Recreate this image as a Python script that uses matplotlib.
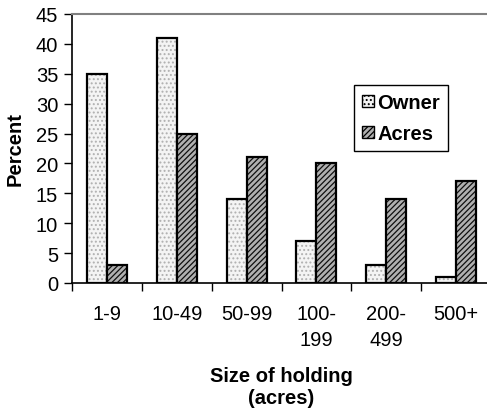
import matplotlib
matplotlib.use("Agg")
import matplotlib.pyplot as plt
import matplotlib.patches as mpatches
import numpy as np

plt.rcParams['font.family'] = ['Liberation Sans', 'DejaVu Sans']
plt.rcParams['hatch.linewidth'] = 0.9

# --- dados ---
categorias = ["1-9", "10-49", "50-99", "100-\n199", "200-\n499", "500+"]
owner = [35, 41, 14, 7, 3, 1]
acres = [3, 25, 21, 20, 14, 17]

FS = 14.5

fig = plt.figure(figsize=(4.87, 4.10), dpi=100)
ax = fig.add_axes([72/487, 1 - 284/410, 419/487, 269/410])

x = np.arange(len(categorias))
w = 0.286

# Owner: pontinhos cinza + contorno preto
ax.bar(x - w/2, owner, w, facecolor='#f4f4f4', edgecolor='#b0b0b0', hatch='....', linewidth=0)
ax.bar(x - w/2, owner, w, facecolor='none', edgecolor='black', linewidth=1.6)
# Acres: diagonal densa
ax.bar(x + w/2, acres, w, facecolor='#b0b0b0', edgecolor='#101010', hatch='//////', linewidth=0)
ax.bar(x + w/2, acres, w, facecolor='none', edgecolor='black', linewidth=1.6)

ax.set_xlim(-0.5, len(categorias) - 0.5)
ax.set_ylim(0, 45)
ax.set_yticks(range(0, 46, 5))

ax.set_xticks(x)
ax.set_xticklabels(categorias, fontsize=FS, linespacing=1.45)
ax.set_xticks(np.arange(len(categorias) + 1) - 0.5, minor=True)
ax.tick_params(axis='x', which='major', length=0, pad=15)
ax.tick_params(axis='x', which='minor', length=6, width=1)
ax.tick_params(axis='y', labelsize=FS, length=6, width=1, pad=4)

for s in ['left', 'bottom']:
    ax.spines[s].set_linewidth(1.2)
ax.spines['top'].set_color('#808080')
ax.spines['top'].set_linewidth(1.5)
ax.spines['right'].set_visible(False)

ax.set_ylabel("Percent", fontsize=FS, fontweight='bold')
ax.yaxis.set_label_coords(-0.112, 0.5)
ax.set_xlabel("Size of holding\n(acres)", fontsize=FS, fontweight='bold', linespacing=1.15)
ax.xaxis.set_label_coords(0.5, -0.31)

h1 = mpatches.Patch(facecolor='#f4f4f4', edgecolor='black', hatch='....', linewidth=1)
h2 = mpatches.Patch(facecolor='#b0b0b0', edgecolor='black', hatch='//////', linewidth=1)
leg = fig.legend([h1, h2], ["Owner", "Acres"], loc='upper left',
                 bbox_to_anchor=(354/487, 1 - 86/410), fancybox=False,
                 prop={'weight': 'bold', 'size': FS}, handlelength=0.6,
                 handleheight=0.6, handletextpad=0.15, labelspacing=0.6,
                 borderpad=0.4, borderaxespad=0, framealpha=1)
leg.get_frame().set_edgecolor('black')
leg.get_frame().set_linewidth(1)

fig.savefig("out.png", dpi=100)
